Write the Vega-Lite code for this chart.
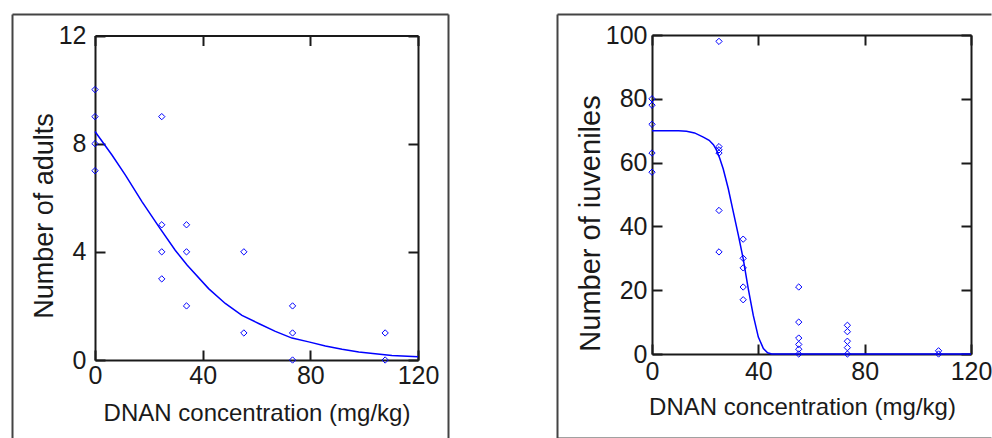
{
  "$schema": "https://vega.github.io/schema/vega-lite/v6.json",
  "padding": {"left": 9, "top": 11, "right": 0, "bottom": 0},
  "spacing": 103,
  "background": "white",
  "datasets": {
    "adults_obs": [
      {"dnan": 0, "adults": 10}, {"dnan": 0, "adults": 9}, {"dnan": 0, "adults": 8}, {"dnan": 0, "adults": 7},
      {"dnan": 24.8, "adults": 9}, {"dnan": 24.8, "adults": 5}, {"dnan": 24.8, "adults": 4}, {"dnan": 24.8, "adults": 3},
      {"dnan": 34.0, "adults": 5}, {"dnan": 34.0, "adults": 4}, {"dnan": 34.0, "adults": 2},
      {"dnan": 55.3, "adults": 4}, {"dnan": 55.3, "adults": 1},
      {"dnan": 73.4, "adults": 2}, {"dnan": 73.4, "adults": 1}, {"dnan": 73.4, "adults": 0},
      {"dnan": 107.8, "adults": 1}, {"dnan": 107.8, "adults": 0}
    ],
    "adults_fit": [
      {"dnan": 0, "adults": 8.45}, {"dnan": 6.3, "adults": 7.58}, {"dnan": 11.3, "adults": 6.84},
      {"dnan": 17.5, "adults": 5.85}, {"dnan": 23.7, "adults": 4.93}, {"dnan": 29.8, "adults": 4.06},
      {"dnan": 34.2, "adults": 3.51}, {"dnan": 42.2, "adults": 2.64}, {"dnan": 48.4, "adults": 2.09},
      {"dnan": 54.6, "adults": 1.65}, {"dnan": 60.8, "adults": 1.35}, {"dnan": 67.0, "adults": 1.06},
      {"dnan": 73.2, "adults": 0.81}, {"dnan": 79.4, "adults": 0.67}, {"dnan": 85.6, "adults": 0.52},
      {"dnan": 91.8, "adults": 0.40}, {"dnan": 98.0, "adults": 0.30}, {"dnan": 104.1, "adults": 0.23},
      {"dnan": 110.3, "adults": 0.17}, {"dnan": 120, "adults": 0.12}
    ],
    "juv_obs": [
      {"dnan": 0, "juveniles": 80}, {"dnan": 0, "juveniles": 78}, {"dnan": 0, "juveniles": 72}, {"dnan": 0, "juveniles": 63}, {"dnan": 0, "juveniles": 57},
      {"dnan": 25.2, "juveniles": 98}, {"dnan": 25.2, "juveniles": 65}, {"dnan": 25.2, "juveniles": 64}, {"dnan": 25.2, "juveniles": 63}, {"dnan": 25.2, "juveniles": 45}, {"dnan": 25.2, "juveniles": 32},
      {"dnan": 34.3, "juveniles": 36}, {"dnan": 34.3, "juveniles": 30}, {"dnan": 34.3, "juveniles": 27}, {"dnan": 34.3, "juveniles": 21}, {"dnan": 34.3, "juveniles": 17},
      {"dnan": 55.2, "juveniles": 21}, {"dnan": 55.2, "juveniles": 10}, {"dnan": 55.2, "juveniles": 5}, {"dnan": 55.2, "juveniles": 3}, {"dnan": 55.2, "juveniles": 1.5}, {"dnan": 55.2, "juveniles": 0},
      {"dnan": 73.5, "juveniles": 9}, {"dnan": 73.5, "juveniles": 7}, {"dnan": 73.5, "juveniles": 4}, {"dnan": 73.5, "juveniles": 2}, {"dnan": 73.5, "juveniles": 0},
      {"dnan": 107.8, "juveniles": 1}, {"dnan": 107.8, "juveniles": 0}
    ],
    "juv_fit": [
      {"dnan": 0, "juveniles": 70}, {"dnan": 5, "juveniles": 70}, {"dnan": 10, "juveniles": 70},
      {"dnan": 13, "juveniles": 69.8}, {"dnan": 16, "juveniles": 69.3}, {"dnan": 19.3, "juveniles": 68.0},
      {"dnan": 21.5, "juveniles": 67.0}, {"dnan": 23.1, "juveniles": 65.6}, {"dnan": 24.3, "juveniles": 63.9},
      {"dnan": 25.5, "juveniles": 61.3}, {"dnan": 26.8, "juveniles": 58.0}, {"dnan": 28.7, "juveniles": 51.8},
      {"dnan": 30.6, "juveniles": 44.5}, {"dnan": 32.5, "juveniles": 37.2}, {"dnan": 34.3, "juveniles": 29.9},
      {"dnan": 36.2, "juveniles": 20.5}, {"dnan": 38.1, "juveniles": 12.1}, {"dnan": 40.0, "juveniles": 5.3},
      {"dnan": 41.9, "juveniles": 1.7}, {"dnan": 43.5, "juveniles": 0.4}, {"dnan": 45, "juveniles": 0},
      {"dnan": 80, "juveniles": 0}, {"dnan": 120, "juveniles": 0}
    ]
  },
  "config": {
    "view": {"stroke": null},
    "font": "Liberation Sans",
    "axis": {
      "grid": false,
      "domain": true,
      "domainColor": "#1a1a1a",
      "domainWidth": 2,
      "tickColor": "#1a1a1a",
      "tickWidth": 2,
      "tickSize": -10,
      "labelFont": "Liberation Sans",
      "labelFontSize": 25,
      "labelColor": "#1a1a1a",
      "labelFlush": false,
      "labelOverlap": false,
      "titleFont": "Liberation Sans",
      "titleFontWeight": "normal",
      "titleColor": "#1a1a1a",
      "titlePadding": 0
    }
  },
  "hconcat": [
    {
      "width": 436,
      "height": 426,
      "layer": [
        {
          "layer": [
            {
              "data": {"name": "adults_obs"},
              "mark": {"type": "point", "shape": "diamond", "size": 40, "filled": false, "color": "#0000ff", "strokeWidth": 1, "opacity": 1},
              "encoding": {
                "x": {"field": "dnan", "type": "quantitative",
                  "scale": {"domain": [0, 120], "range": [83, 406], "nice": false, "zero": false},
                  "axis": {"orient": "bottom", "offset": -80, "values": [0, 40, 80, 120], "labelPadding": 13,
                    "title": "DNAN concentration (mg/kg)", "titleFontSize": 24, "titlePadding": 13}},
                "y": {"field": "adults", "type": "quantitative",
                  "scale": {"domain": [0, 12], "range": [346, 21.5], "nice": false, "zero": false},
                  "axis": {"orient": "left", "offset": -83, "values": [0, 4, 8, 12], "labelPadding": 19,
                    "title": "Number of adults", "titleFontSize": 27, "titleY": 201.5}}
              }
            },
            {
              "data": {"name": "adults_fit"},
              "mark": {"type": "line", "color": "#0000ff", "strokeWidth": 1.5},
              "encoding": {
                "x": {"field": "dnan", "type": "quantitative",
                  "axis": {"orient": "top", "offset": -21.5, "values": [0, 40, 80, 120], "labels": false, "title": null}},
                "y": {"field": "adults", "type": "quantitative",
                  "axis": {"orient": "right", "offset": -30, "values": [0, 4, 8, 12], "labels": false, "title": null}}
              }
            }
          ],
          "resolve": {"axis": {"x": "independent", "y": "independent"}}
        },
        {
          "data": {"name": "adults_fit"},
          "mark": {"type": "point", "opacity": 0},
          "encoding": {
            "x": {"field": "dnan", "type": "quantitative",
              "axis": {"orient": "top", "ticks": false, "labels": false, "title": null, "domainColor": "#444444"}},
            "y": {"field": "adults", "type": "quantitative",
              "axis": {"orient": "left", "ticks": false, "labels": false, "title": null, "domainColor": "#444444"}}
          }
        },
        {
          "data": {"name": "adults_fit"},
          "mark": {"type": "point", "opacity": 0},
          "encoding": {
            "x": {"field": "dnan", "type": "quantitative", "axis": null},
            "y": {"field": "adults", "type": "quantitative",
              "axis": {"orient": "right", "ticks": false, "labels": false, "title": null, "domainColor": "#444444"}}
          }
        }
      ],
      "resolve": {"scale": {"x": "independent", "y": "independent"}, "axis": {"x": "independent", "y": "independent"}}
    },
    {
      "width": 434,
      "height": 424,
      "layer": [
        {
          "layer": [
            {
              "data": {"name": "juv_obs"},
              "mark": {"type": "point", "shape": "diamond", "size": 40, "filled": false, "color": "#0000ff", "strokeWidth": 1, "opacity": 1},
              "encoding": {
                "x": {"field": "dnan", "type": "quantitative",
                  "scale": {"domain": [0, 120], "range": [95, 414], "nice": false, "zero": false},
                  "axis": {"orient": "bottom", "offset": -84, "values": [0, 40, 80, 120], "labelPadding": 15,
                    "title": "DNAN concentration (mg/kg)", "titleFontSize": 24, "titleX": 245, "titlePadding": 11}},
                "y": {"field": "juveniles", "type": "quantitative",
                  "scale": {"domain": [0, 100], "range": [340, 21], "nice": false, "zero": false},
                  "axis": {"orient": "left", "offset": -95, "values": [0, 20, 40, 60, 80, 100], "labelPadding": 15,
                    "title": "Number of iuveniles", "titleFontSize": 29, "titleY": 209}}
              }
            },
            {
              "data": {"name": "juv_fit"},
              "mark": {"type": "line", "color": "#0000ff", "strokeWidth": 1.5},
              "encoding": {
                "x": {"field": "dnan", "type": "quantitative",
                  "axis": {"orient": "top", "offset": -21, "values": [0, 40, 80, 120], "labels": false, "title": null}},
                "y": {"field": "juveniles", "type": "quantitative",
                  "axis": {"orient": "right", "offset": -20, "values": [0, 20, 40, 60, 80, 100], "labels": false, "title": null}}
              }
            }
          ],
          "resolve": {"axis": {"x": "independent", "y": "independent"}}
        },
        {
          "data": {"name": "juv_fit"},
          "mark": {"type": "point", "opacity": 0},
          "encoding": {
            "x": {"field": "dnan", "type": "quantitative",
              "axis": {"orient": "top", "ticks": false, "labels": false, "title": null, "domainColor": "#444444"}},
            "y": {"field": "juveniles", "type": "quantitative",
              "axis": {"orient": "left", "ticks": false, "labels": false, "title": null, "domainColor": "#444444"}}
          }
        },
        {
          "data": {"name": "juv_fit"},
          "mark": {"type": "point", "opacity": 0},
          "encoding": {
            "x": {"field": "dnan", "type": "quantitative",
              "axis": {"orient": "bottom", "ticks": false, "labels": false, "title": null, "domainColor": "#444444"}},
            "y": {"field": "juveniles", "type": "quantitative", "axis": null}
          }
        }
      ],
      "resolve": {"scale": {"x": "independent", "y": "independent"}, "axis": {"x": "independent", "y": "independent"}}
    }
  ]
}
